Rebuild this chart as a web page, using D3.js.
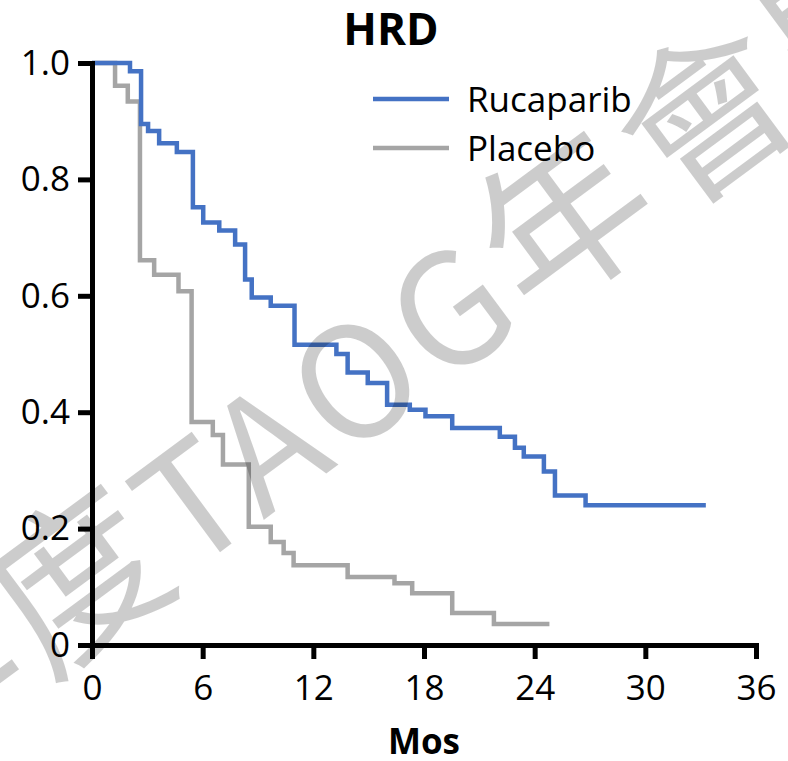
<!DOCTYPE html>
<html>
<head>
<meta charset="utf-8">
<script src="https://cdn.jsdelivr.net/npm/d3@7"></script>
<style>
  body { margin: 0; background: #fff; }
  svg { display: block; }
  .axis text { font-family: "Open Sans", sans-serif; font-size: 35px; fill: #000; }
</style>
</head>
<body>
<svg id="chart"></svg>
<script>
let width = 788;
let height = 761;

// Kaplan-Meier steps (months, survival probability)
let rucaTimes  = [0, 2.06, 2.66, 3.04, 3.64, 4.6, 5.47, 6.03, 6.9, 7.76, 8.3, 8.66, 9.69, 10.98, 13.25, 13.86, 14.95, 16.0, 17.23, 18.08, 19.53, 22.11, 22.93, 23.41, 24.5, 25.1, 26.76, 33.28];
let rucaValues = [1.0, 0.986, 0.895, 0.883, 0.862, 0.847, 0.752, 0.726, 0.712, 0.688, 0.628, 0.597, 0.583, 0.516, 0.500, 0.468, 0.450, 0.413, 0.404, 0.393, 0.373, 0.358, 0.339, 0.324, 0.298, 0.257, 0.240, 0.240];
let placTimes  = [0, 1.25, 1.94, 2.6, 3.37, 4.69, 5.4, 6.55, 7.1, 8.5, 9.69, 10.39, 10.93, 13.86, 16.4, 17.36, 19.53, 21.79, 24.8];
let placValues = [1.0, 0.961, 0.934, 0.661, 0.636, 0.608, 0.383, 0.361, 0.310, 0.203, 0.177, 0.158, 0.137, 0.117, 0.106, 0.089, 0.055, 0.036, 0.036];

let seriesNames  = ['Rucaparib', 'Placebo'];
let seriesColors = ['#4472C4', '#A5A5A5'];
let xTicks = [0, 6, 12, 18, 24, 30, 36];
let yTicks = [0, 0.2, 0.4, 0.6, 0.8, 1.0];
let title = 'HRD';
let xLabel = 'Mos';
let watermark = '110年度TAOG年會暨';

let svg = d3.select('#chart').attr('width', width).attr('height', height);

let xScale = d3.scaleLinear().domain([0, 36]).range([92, 756]);
let yScale = d3.scaleLinear().domain([0, 1]).range([645, 63]);

function toPoints(t, v) {
    return t.map((d, i) => [d, v[i]]);
}
let series = [toPoints(rucaTimes, rucaValues), toPoints(placTimes, placValues)];

let line = d3.line()
    .x(d => xScale(d[0]))
    .y(d => yScale(d[1]))
    .curve(d3.curveStepAfter);

// curves (placebo underneath)
svg.append('g')
    .selectAll('path')
    .data([1, 0])
    .join('path')
    .attr('d', i => line(series[i]))
    .attr('fill', 'none')
    .attr('stroke', i => seriesColors[i])
    .attr('stroke-width', 4.5);

// axes
svg.append('g')
    .attr('class', 'axis')
    .attr('transform', `translate(0, ${yScale(0)})`)
    .call(d3.axisBottom(xScale).tickValues(xTicks).tickSize(14).tickSizeOuter(0).tickPadding(16));

svg.append('g')
    .attr('class', 'axis')
    .attr('transform', `translate(${xScale(0)}, 0)`)
    .call(d3.axisLeft(yScale).tickValues(yTicks).tickSize(14).tickSizeOuter(0).tickPadding(8)
        .tickFormat(d => d === 0 ? '0' : d3.format('.1f')(d)));

svg.selectAll('.axis path.domain').attr('stroke', '#000').attr('stroke-width', 5).attr('stroke-linecap', 'square');
svg.selectAll('.axis .tick line').attr('stroke', '#000').attr('stroke-width', 5);

// title
svg.append('text')
    .attr('x', 391).attr('y', 45)
    .attr('text-anchor', 'middle')
    .style('font-family', '"Open Sans", sans-serif')
    .style('font-weight', 'bold')
    .style('font-size', '44px')
    .text(title);

// x label
svg.append('text')
    .attr('x', (xScale(0) + xScale(36)) / 2).attr('y', 754)
    .attr('text-anchor', 'middle')
    .style('font-family', '"Open Sans", sans-serif')
    .style('font-weight', 'bold')
    .style('font-size', '35px')
    .text(xLabel);

// legend
let legend = svg.append('g')
    .selectAll('g')
    .data(seriesNames)
    .join('g')
    .attr('transform', (d, i) => `translate(373, ${99 + i * 49})`);
legend.append('line')
    .attr('x1', 0).attr('x2', 76)
    .attr('stroke', (d, i) => seriesColors[i])
    .attr('stroke-width', 4.5);
legend.append('text')
    .attr('x', 94).attr('y', 13)
    .style('font-family', '"Open Sans", sans-serif')
    .style('font-size', '35px')
    .text(d => d);

// watermark, anchored on the "T"; CJK glyphs a bit larger than latin
let wm = svg.append('g')
    .attr('transform', 'translate(223, 550) rotate(-36.5)');
let wmText = wm.append('text')
    .style('font-family', '"Noto Sans CJK TC", sans-serif')
    .style('letter-spacing', '7px')
    .attr('fill', '#000')
    .attr('fill-opacity', 0.2);
wmText.selectAll('tspan')
    .data(watermark.split(''))
    .join('tspan')
    .style('font-size', c => /[\u4e00-\u9fff]/.test(c) ? '170px' : '155px')
    .text(c => c);
let tIndex = watermark.indexOf('T');
let node = wmText.node();
let tMid = (node.getStartPositionOfChar(tIndex).x + node.getEndPositionOfChar(tIndex).x - 7) / 2;
wmText.attr('x', -tMid);
</script>
</body>
</html>
